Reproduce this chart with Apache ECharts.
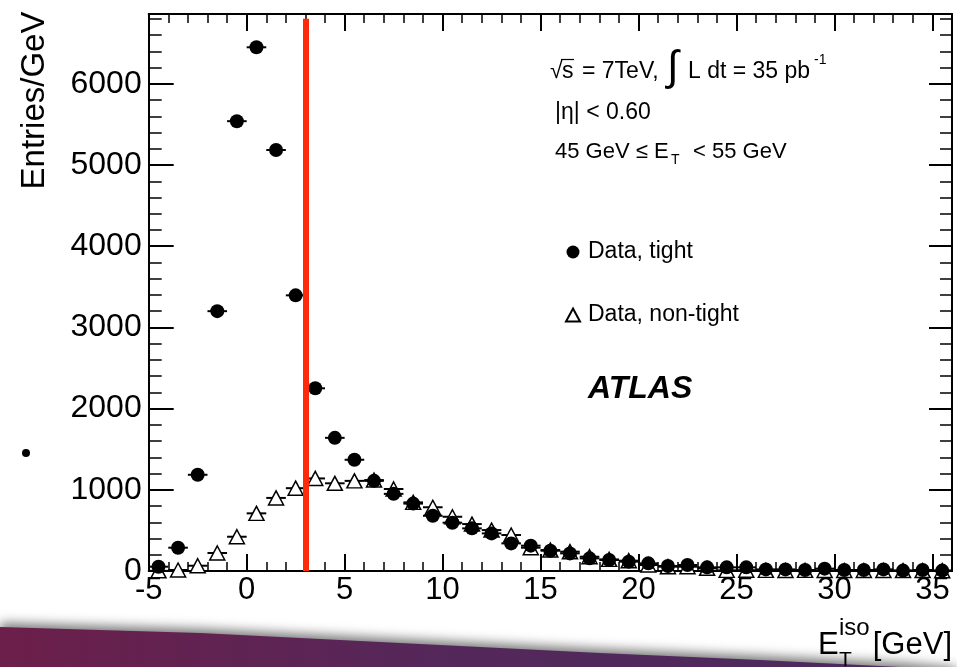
<!DOCTYPE html>
<html><head><meta charset="utf-8">
<script src="https://cdn.jsdelivr.net/npm/echarts@6/dist/echarts.min.js"></script>
<style>html,body{margin:0;padding:0;background:#fff}#c{width:957px;height:667px}</style>
</head><body><div id="c"></div>
<script>
// ---- data ----
const binCenters = [-4.5,-3.5,-2.5,-1.5,-0.5,0.5,1.5,2.5,3.5,4.5,5.5,6.5,7.5,8.5,9.5,10.5,11.5,12.5,13.5,14.5,15.5,16.5,17.5,18.5,19.5,20.5,21.5,22.5,23.5,24.5,25.5,26.5,27.5,28.5,29.5,30.5,31.5,32.5,33.5,34.5,35.5];
const tightValues = [53,287,1185,3200,5540,6450,5185,3395,2250,1640,1370,1110,950,830,680,595,525,463,340,312,250,217,156,135,115,94,62,74,45,45,45,20,20,12,29,12,12,20,5,12,5];
const nonTightValues = [2,12,65,222,422,710,900,1020,1140,1080,1110,1120,1010,845,785,668,578,504,443,287,258,238,176,143,127,74,53,53,33,8,10,8,6,8,6,6,6,5,5,5,4];
const xTickValues = [-5,0,5,10,15,20,25,30,35];
const yTickValues = [0,1000,2000,3000,4000,5000,6000];
const cutValue = 3;
const binWidth = 1;
const seriesNames = ['Data, tight', 'Data, non-tight'];

const FONT = '"Liberation Sans", Arial, Helvetica, sans-serif';
const chart = echarts.init(document.getElementById('c'), null, {renderer: 'canvas'});

function pairs(vals){ return binCenters.map((x,i)=>[x, vals[i]]); }
function errRender(params, api){
  const x = api.value(0), y = api.value(1);
  const p1 = api.coord([x - binWidth/2, y]);
  const p2 = api.coord([x + binWidth/2, y]);
  return {type:'line', shape:{x1:p1[0], y1:p1[1], x2:p2[0], y2:p2[1]}, style:{stroke:'#000', lineWidth:2}};
}
const plain = v => String(v);

const XMIN=-5, XMAX=36, YMIN=0, YMAX=6860;
function xAx(pos, major){
  return {
    type:'value', position:pos, min:XMIN, max:XMAX, gridIndex:0,
    interval: major ? undefined : 1,
    splitLine:{show:false},
    axisLine:{show: major, onZero:false, lineStyle:{color:'#000', width:2}},
    axisTick: major ? {show:true, inside:true, length:17, customValues:xTickValues, lineStyle:{color:'#000', width:2}}
                    : {show:true, inside:true, length:9, lineStyle:{color:'#000', width:1.5}},
    axisLabel: (major && pos==='bottom') ? {show:true, customValues:xTickValues, formatter:plain, color:'#000', fontSize:31, fontFamily:FONT, margin:4}
                    : {show:false}
  };
}
function yAx(pos, major){
  return {
    type:'value', position:pos, min:YMIN, max:YMAX, gridIndex:0,
    interval: major ? undefined : 200,
    splitLine:{show:false},
    axisLine:{show: major, onZero:false, lineStyle:{color:'#000', width:2}},
    axisTick: major ? {show:true, inside:true, length: pos==='left'?25:23, customValues:yTickValues, lineStyle:{color:'#000', width:2}}
                    : {show:true, inside:true, length: pos==='left'?13:12, lineStyle:{color:'#000', width:1.5}},
    axisLabel: (major && pos==='left') ? {show:true, customValues:yTickValues, formatter:plain, color:'#000', fontSize:32, fontFamily:FONT, margin:7}
                    : {show:false}
  };
}

const option = {
  animation:false,
  backgroundColor:'#fff',
  grid:{left:148.7, right:5, top:14, bottom:96, containLabel:false, outerBoundsMode:'none'},
  xAxis:[xAx('bottom',true), xAx('bottom',false), xAx('top',true), xAx('top',false)],
  yAxis:[yAx('left',true), yAx('left',false), yAx('right',true), yAx('right',false)],
  legend:{
    show:true, orient:'vertical', left:565, top:240, padding:0, selectedMode:false,
    itemWidth:14, itemHeight:13, itemGap:39,
    data:[{name:seriesNames[0], icon:'circle'}, {name:seriesNames[1], icon:'triangle'}],
    textStyle:{color:'#000', fontSize:23, fontFamily:FONT, lineHeight:24, padding:[0,0,0,3]}
  },
  series:[
    {type:'custom', renderItem:errRender, data:pairs(nonTightValues), z:2, silent:true, xAxisIndex:0, yAxisIndex:0},
    {type:'scatter', name:seriesNames[1], data:pairs(nonTightValues), symbol:'triangle', symbolSize:[15,14], z:3,
     itemStyle:{color:'#fff', borderColor:'#000', borderWidth:1.5, opacity:1}, silent:true, xAxisIndex:0, yAxisIndex:0},
    {type:'custom', renderItem:errRender, data:pairs(tightValues), z:4, silent:true, xAxisIndex:0, yAxisIndex:0},
    {type:'scatter', name:seriesNames[0], data:pairs(tightValues), symbol:'circle', symbolSize:14, z:5,
     itemStyle:{color:'#000', opacity:1}, silent:true, xAxisIndex:0, yAxisIndex:0,
     markLine:{silent:true, symbol:['none','none'], label:{show:false}, z:6,
       lineStyle:{color:'#ff2a0a', width:6, type:'solid', opacity:1},
       data:[[{coord:[cutValue, 0]}, {coord:[cutValue, 6800]}]]}
    }
  ],
  graphic:[
    // slide decoration band
    {type:'polygon', z:-1, shape:{points:[[0,627],[200,633],[400,643],[600,653],[760,660],[900,667],[957,672],[957,700],[0,700]]},
     style:{fill:{type:'linear', x:0, y:0, x2:1, y2:0, colorStops:[{offset:0,color:'#6c1f4a'},{offset:0.45,color:'#55275a'},{offset:1,color:'#4a2b5f'}]},
            shadowBlur:12, shadowColor:'rgba(0,0,0,0.55)', shadowOffsetY:-4}},
    {type:'circle', shape:{cx:26, cy:453, r:4}, style:{fill:'#000'}},
    // y axis title
    {type:'text', x:35, y:100.5, rotation:Math.PI/2,
     style:{text:'Entries/GeV', font:'33px '+FONT, fill:'#000', align:'center', verticalAlign:'middle'}},
    // annotation line 1
    {type:'text', x:550, y:72, style:{text:'\u221A', font:'23px '+FONT, fill:'#000', align:'left', verticalAlign:'middle'}},
    {type:'line', shape:{x1:561, y1:59.5, x2:574, y2:59.5}, style:{stroke:'#000', lineWidth:1.2}},
    {type:'text', x:562, y:72, style:{text:'s', font:'23px '+FONT, fill:'#000', align:'left', verticalAlign:'middle'}},
    {type:'text', x:582, y:72, style:{text:'= 7TeV,', font:'23px '+FONT, fill:'#000', align:'left', verticalAlign:'middle'}},
    {type:'text', x:667, y:68, style:{text:'\u222B', font:'42px '+FONT, fill:'#000', align:'left', verticalAlign:'middle'}},
    {type:'text', x:688, y:72, style:{text:'L dt = 35 pb', font:'23px '+FONT, fill:'#000', align:'left', verticalAlign:'middle'}},
    {type:'text', x:814, y:60, style:{text:'-1', font:'14px '+FONT, fill:'#000', align:'left', verticalAlign:'middle'}},
    // line 2
    {type:'text', x:555, y:113, style:{text:'|\u03B7| < 0.60', font:'23px '+FONT, fill:'#000', align:'left', verticalAlign:'middle'}},
    // line 3
    {type:'text', x:555, y:152, style:{text:'45 GeV \u2264 E', font:'22px '+FONT, fill:'#000', align:'left', verticalAlign:'middle'}},
    {type:'text', x:671, y:160, style:{text:'T', font:'14px '+FONT, fill:'#000', align:'left', verticalAlign:'middle'}},
    {type:'text', x:693, y:152, style:{text:'< 55 GeV', font:'22px '+FONT, fill:'#000', align:'left', verticalAlign:'middle'}},
    // ATLAS
    {type:'text', x:588, y:389, style:{text:'ATLAS', font:'italic bold 32px '+FONT, fill:'#000', align:'left', verticalAlign:'middle'}},
    // x axis title
    {type:'text', x:818, y:645, style:{text:'E', font:'31px '+FONT, fill:'#000', align:'left', verticalAlign:'middle'}},
    {type:'text', x:839, y:660, style:{text:'T', font:'21px '+FONT, fill:'#000', align:'left', verticalAlign:'middle'}},
    {type:'text', x:839, y:628, style:{text:'iso', font:'24px '+FONT, fill:'#000', align:'left', verticalAlign:'middle'}},
    {type:'text', x:952, y:645, style:{text:'[GeV]', font:'31px '+FONT, fill:'#000', align:'right', verticalAlign:'middle'}}
  ]
};
chart.setOption(option);
</script>
</body></html>
